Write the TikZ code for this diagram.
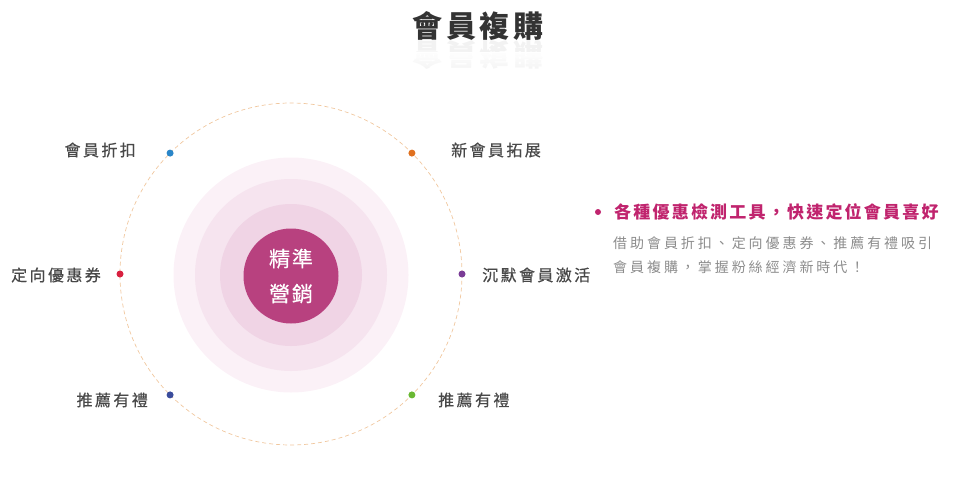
\documentclass[tikz,border=0pt]{standalone}
\usepackage{fontspec}
\newfontfamily\cjklabel[LetterSpace=15,FakeBold=0.6]{Noto Sans CJK TC}
\newfontfamily\cjkbody[LetterSpace=21]{Noto Sans CJK TC}
\newfontfamily\cjkhead[LetterSpace=13]{Noto Sans CJK TC}
\newfontfamily\cjkcore[LetterSpace=9,FakeBold=0.5]{Noto Sans CJK TC}
\usetikzlibrary{positioning,fadings}
\definecolor{rosedeep}{HTML}{B8417F}
\definecolor{rosehead}{HTML}{C0246E}
\definecolor{ringA}{HTML}{F0D4E5}
\definecolor{ringB}{HTML}{F6E4EF}
\definecolor{ringC}{HTML}{FBF1F7}
\definecolor{orbitline}{HTML}{F0C79E}
\definecolor{inkdark}{HTML}{484848}
\definecolor{inkgray}{HTML}{8C8C8C}
\definecolor{dotblue}{HTML}{2A86C8}
\definecolor{dotorange}{HTML}{E0701E}
\definecolor{dotred}{HTML}{D8203F}
\definecolor{dotpurple}{HTML}{7A3C96}
\definecolor{dotnavy}{HTML}{3A4C9C}
\definecolor{dotgreen}{HTML}{6AB833}
\tikzset{
  ring/.style={circle, inner sep=0pt, outer sep=0pt, draw=none},
  orbit/.style={circle, inner sep=0pt, outer sep=0pt, draw=orbitline, line width=0.7pt, dash pattern=on 4pt off 3pt},
  dot/.style={circle, inner sep=0pt, outer sep=0pt, minimum size=7pt},
  lbl/.style={font=\cjklabel\fontsize{16}{19}\selectfont, text=inkdark, inner sep=0pt},
  note/.style={font=\cjkbody\fontsize{14}{24}\selectfont, text=inkgray, align=left, inner sep=0pt}
}
\begin{document}
\begin{tikzpicture}[x=1pt,y=-1pt]
  \useasboundingbox (0,0) rectangle (960,500);
  % title and its reflection
  \node[font=\cjkhead\bfseries\fontsize{30}{34}\selectfont, text=black!80, inner sep=0pt] (title) at (478,26) {會員複購};
  \begin{scope}[shift={(478,55)}, yscale=-1]
    \node[transform shape, font=\cjkhead\bfseries\fontsize{30}{34}\selectfont, text=black, text opacity=0.05, inner sep=0pt] (echo) at (0,0) {會員複購};
  \end{scope}
  \fill[white, path fading=south] (400,52) rectangle (560,72);
  % rings
  \node[ring, fill=ringC, minimum size=235pt] (halo3) at (291,275) {};
  \node[ring, fill=ringB, minimum size=192pt] (halo2) at (291,275) {};
  \node[ring, fill=ringA, minimum size=142pt] (halo1) at (291,275) {};
  \node[ring, fill=rosedeep, minimum size=95pt, text=white, align=center,
        font=\cjkcore\fontsize{21}{35}\selectfont] (core) at (291,276) {精準\\營銷};
  \node[orbit, minimum size=342pt] (orbit) at (291,274) {};
  % dots on the orbit
  \foreach \ang/\col/\nm in {135/dotblue/d1, 45/dotorange/d2, 180/dotred/d3, 0/dotpurple/d4, 225/dotnavy/d5, 315/dotgreen/d6}
    \node[dot, fill=\col] (\nm) at (orbit.\ang) {};
  % labels
  \node[lbl, anchor=east] (l1) at (136,150) {會員折扣};
  \node[lbl, anchor=west] (l2) at (451,150) {新會員拓展};
  \node[lbl, anchor=east] (l3) at (101,275) {定向優惠券};
  \node[lbl, anchor=west] (l4) at (482,275) {沉默會員激活};
  \node[lbl, anchor=east] (l5) at (148,400) {推薦有禮};
  \node[lbl, anchor=west] (l6) at (438,400) {推薦有禮};
  % side note
  \node[dot, fill=rosehead, minimum size=6pt] (bullet) at (598,212) {};
  \node[font=\cjkhead\bfseries\fontsize{17}{20}\selectfont, text=rosehead, anchor=west, inner sep=0pt] (head) at (614,212) {各種優惠檢測工具，快速定位會員喜好};
  \node[note, anchor=north west] (body) at (613,236) {借助會員折扣、定向優惠券、推薦有禮吸引\\會員複購，掌握粉絲經濟新時代！};
\end{tikzpicture}
\end{document}
